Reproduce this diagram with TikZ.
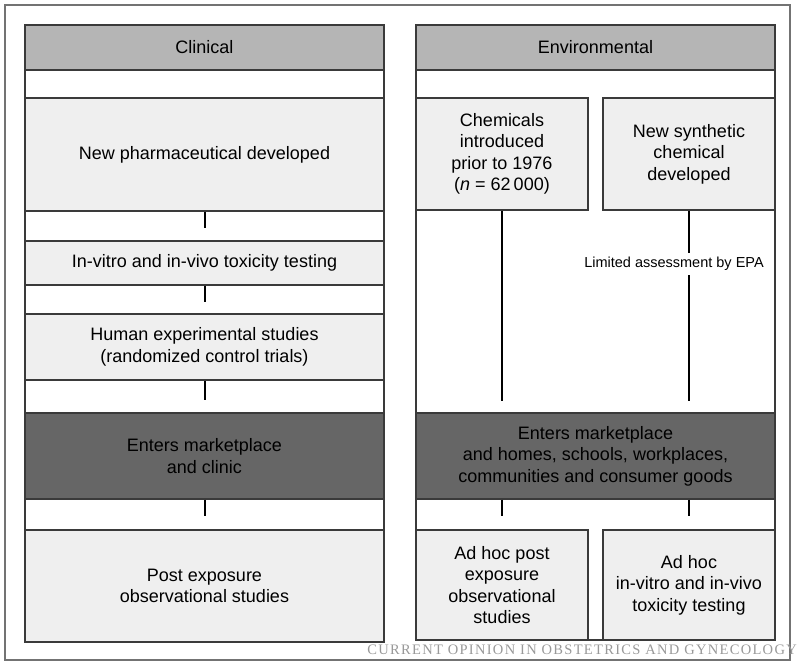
\documentclass[tikz,border=0pt]{standalone}
\usepackage{fontspec}
\setmainfont{Liberation Sans}
\newfontfamily\wmfont[LetterSpace=9]{Liberation Serif}
\definecolor{hdrgray}{HTML}{B5B5B5}
\definecolor{boxgray}{HTML}{EFEFEF}
\definecolor{mktgray}{HTML}{666666}
\definecolor{linegray}{HTML}{3A3A3A}

\begin{document}
\begin{tikzpicture}[x=1pt,y=-1pt,
    txt/.style={font=\fontsize{18}{21.5}\selectfont,align=center,text=black},
    cell/.style={txt,draw=linegray,line width=1.2pt,fill=boxgray,inner sep=0pt},
    wide/.style={cell,minimum width=359pt},
    half/.style={cell,minimum width=172pt},
    link/.style={draw=black,line width=2pt}]
  \useasboundingbox (0,0) rectangle (800,667);
  \draw[black!55,line width=2pt] (5,5) rectangle (790,660);

  \node[wide,fill=hdrgray,minimum height=45pt] (clin) at (204.5,47.5) {Clinical};
  \node[wide,minimum height=113pt] (pharma) at (204.5,154.5) {New pharmaceutical developed};
  \node[wide,minimum height=44pt] (vitro) at (204.5,263) {In-vitro and in-vivo toxicity testing};
  \node[wide,minimum height=66pt] (human) at (204.5,347) {Human experimental studies\\(randomized control trials)};
  \node[wide,fill=mktgray,minimum height=86pt] (mktL) at (204.5,456) {Enters marketplace\\and clinic};
  \node[wide,minimum height=112pt] (post) at (204.5,586) {Post exposure\\observational studies};

  \node[wide,fill=hdrgray,minimum height=45pt] (env) at (595.5,47.5) {Environmental};
  \node[half,minimum height=112pt] (chem) at (502,154) {Chemicals\\introduced\\prior to 1976\\(\textit{n} = 62\,000)};
  \node[half,minimum height=112pt] (synth) at (689,154) {New synthetic\\chemical\\developed};
  \node[wide,fill=mktgray,minimum height=86pt] (mktR) at (595.5,456) {Enters marketplace\\and homes, schools, workplaces,\\communities and consumer goods};
  \node[half,minimum height=110pt] (adhocA) at (502,585) {Ad hoc post\\exposure\\observational\\studies};
  \node[half,minimum height=110pt] (adhocB) at (689,585) {Ad hoc\\in-vitro and in-vivo\\toxicity testing};

  \node[draw=linegray,line width=1.2pt,minimum width=359pt,minimum height=617pt] (colL) at (204.5,333.5) {};
  \node[draw=linegray,line width=1.2pt,minimum width=359pt,minimum height=615pt] (colR) at (595.5,332.5) {};
  \draw[linegray,line width=1.2pt] (colL.west |- clin.south) ++(0,28) -- ++(359,0);
  \draw[linegray,line width=1.2pt] (colR.west |- env.south) -- ++(359,0);

  \draw[link] (pharma.south) -- ([yshift=12pt]vitro.north);
  \draw[link] (vitro.south) -- ([yshift=11pt]human.north);
  \draw[link] (human.south) -- ([yshift=12pt]mktL.north);
  \draw[link] (mktL.south) -- ([yshift=13pt]post.north);

  \draw[link] (chem.south) -- ([yshift=11pt]chem.south |- mktR.north);
  \draw[link] (synth.south) -- ([yshift=11pt]synth.south |- mktR.north);
  \node[fill=white,inner sep=4pt,font=\fontsize{14.5}{17}\selectfont,text=black] (epa) at (674,264) {Limited assessment by EPA};
  \draw[link] (adhocA.north |- mktR.south) -- ([yshift=13pt]adhocA.north);
  \draw[link] (adhocB.north |- mktR.south) -- ([yshift=13pt]adhocB.north);

  \node[anchor=base east,inner sep=0pt,text=black!40,font=\wmfont\fontsize{14.5}{14.5}\selectfont] (wm) at (797,654) {CURRENT OPINION IN OBSTETRICS AND GYNECOLOGY};
\end{tikzpicture}
\end{document}
